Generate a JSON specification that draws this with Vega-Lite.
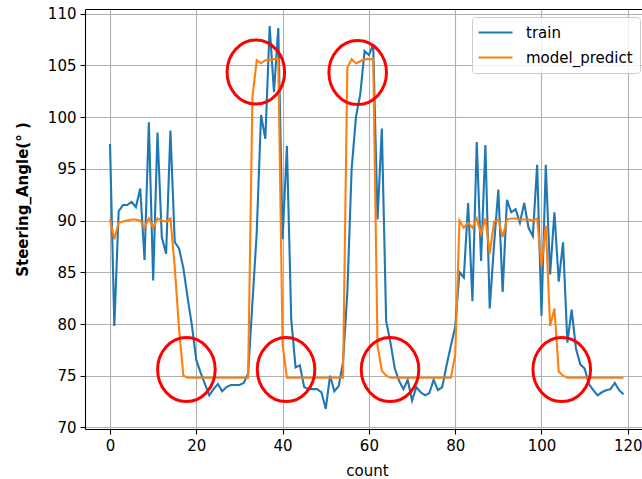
{
  "$schema": "https://vega.github.io/schema/vega-lite/v6.json",
  "autosize": {"type": "none"},
  "width": 557,
  "height": 420,
  "padding": {"left": 85, "top": 9, "right": 0, "bottom": 50},
  "background": "white",
  "config": {
    "view": {"stroke": null},
    "font": "DejaVu Sans",
    "axis": {
      "labelFont": "DejaVu Sans", "labelFontSize": 15, "labelColor": "black",
      "titleFont": "DejaVu Sans", "titleFontSize": 15, "titleColor": "black", "titleFontWeight": "normal",
      "domainColor": "black", "domainWidth": 1.1, "tickColor": "black", "tickWidth": 1.1, "tickSize": 5,
      "labelPadding": 4, "gridColor": "#b0b0b0", "gridWidth": 1.1, "gridOpacity": 1
    }
  },
  "datasets": {
    "series": [
      {"count":0,"train":97.4,"model_predict":90.1},
      {"count":1,"train":79.8,"model_predict":88.2},
      {"count":2,"train":90.9,"model_predict":89.8},
      {"count":3,"train":91.5,"model_predict":89.9},
      {"count":4,"train":91.5,"model_predict":90.0},
      {"count":5,"train":91.8,"model_predict":90.1},
      {"count":6,"train":91.3,"model_predict":90.1},
      {"count":7,"train":93.1,"model_predict":90.0},
      {"count":8,"train":86.2,"model_predict":89.3},
      {"count":9,"train":99.5,"model_predict":90.2},
      {"count":10,"train":84.2,"model_predict":89.3},
      {"count":11,"train":98.5,"model_predict":90.2},
      {"count":12,"train":88.4,"model_predict":90.0},
      {"count":13,"train":86.8,"model_predict":89.9},
      {"count":14,"train":98.7,"model_predict":90.2},
      {"count":15,"train":87.9,"model_predict":85.5},
      {"count":16,"train":87.3,"model_predict":79.5},
      {"count":17,"train":85.4,"model_predict":75.0},
      {"count":18,"train":82.5,"model_predict":74.8},
      {"count":19,"train":79.8,"model_predict":74.8},
      {"count":20,"train":76.5,"model_predict":74.8},
      {"count":21,"train":75.3,"model_predict":74.8},
      {"count":22,"train":74.2,"model_predict":74.8},
      {"count":23,"train":73.1,"model_predict":74.8},
      {"count":24,"train":73.7,"model_predict":74.8},
      {"count":25,"train":74.2,"model_predict":74.8},
      {"count":26,"train":73.5,"model_predict":74.8},
      {"count":27,"train":73.9,"model_predict":74.8},
      {"count":28,"train":74.1,"model_predict":74.8},
      {"count":29,"train":74.1,"model_predict":74.8},
      {"count":30,"train":74.1,"model_predict":74.8},
      {"count":31,"train":74.3,"model_predict":74.8},
      {"count":32,"train":75.2,"model_predict":74.8},
      {"count":33,"train":82.0,"model_predict":101.9},
      {"count":34,"train":88.8,"model_predict":105.5},
      {"count":35,"train":100.2,"model_predict":105.2},
      {"count":36,"train":97.9,"model_predict":105.5},
      {"count":37,"train":108.8,"model_predict":105.5},
      {"count":38,"train":102.4,"model_predict":105.6},
      {"count":39,"train":108.6,"model_predict":105.6},
      {"count":40,"train":88.2,"model_predict":78.0},
      {"count":41,"train":97.2,"model_predict":74.8},
      {"count":42,"train":80.5,"model_predict":74.8},
      {"count":43,"train":75.8,"model_predict":74.8},
      {"count":44,"train":76.0,"model_predict":74.8},
      {"count":45,"train":73.9,"model_predict":74.8},
      {"count":46,"train":73.7,"model_predict":74.8},
      {"count":47,"train":73.7,"model_predict":74.8},
      {"count":48,"train":73.7,"model_predict":74.8},
      {"count":49,"train":73.4,"model_predict":74.8},
      {"count":50,"train":71.8,"model_predict":74.8},
      {"count":51,"train":75.0,"model_predict":74.8},
      {"count":52,"train":73.5,"model_predict":74.8},
      {"count":53,"train":74.0,"model_predict":74.8},
      {"count":54,"train":76.3,"model_predict":74.8},
      {"count":55,"train":83.0,"model_predict":104.8},
      {"count":56,"train":95.0,"model_predict":105.6},
      {"count":57,"train":100.0,"model_predict":105.2},
      {"count":58,"train":102.2,"model_predict":105.4},
      {"count":59,"train":106.4,"model_predict":105.6},
      {"count":60,"train":106.0,"model_predict":105.6},
      {"count":61,"train":107.0,"model_predict":105.6},
      {"count":62,"train":90.1,"model_predict":77.9},
      {"count":63,"train":98.9,"model_predict":75.5},
      {"count":64,"train":80.3,"model_predict":75.0},
      {"count":65,"train":78.2,"model_predict":74.8},
      {"count":66,"train":75.7,"model_predict":74.8},
      {"count":67,"train":74.5,"model_predict":74.8},
      {"count":68,"train":73.7,"model_predict":74.8},
      {"count":69,"train":74.6,"model_predict":74.8},
      {"count":70,"train":72.6,"model_predict":74.8},
      {"count":71,"train":73.9,"model_predict":74.8},
      {"count":72,"train":73.4,"model_predict":74.8},
      {"count":73,"train":73.1,"model_predict":74.8},
      {"count":74,"train":73.3,"model_predict":74.8},
      {"count":75,"train":74.6,"model_predict":74.8},
      {"count":76,"train":73.6,"model_predict":74.8},
      {"count":77,"train":73.9,"model_predict":74.8},
      {"count":78,"train":76.0,"model_predict":74.8},
      {"count":79,"train":77.9,"model_predict":74.8},
      {"count":80,"train":79.7,"model_predict":77.0},
      {"count":81,"train":85.0,"model_predict":90.0},
      {"count":82,"train":84.5,"model_predict":89.3},
      {"count":83,"train":91.7,"model_predict":89.8},
      {"count":84,"train":82.2,"model_predict":89.3},
      {"count":85,"train":97.6,"model_predict":90.2},
      {"count":86,"train":86.1,"model_predict":88.7},
      {"count":87,"train":97.3,"model_predict":90.2},
      {"count":88,"train":81.5,"model_predict":86.8},
      {"count":89,"train":87.6,"model_predict":89.9},
      {"count":90,"train":93.0,"model_predict":90.1},
      {"count":91,"train":83.1,"model_predict":88.4},
      {"count":92,"train":92.0,"model_predict":90.1},
      {"count":93,"train":90.8,"model_predict":90.2},
      {"count":94,"train":91.1,"model_predict":90.2},
      {"count":95,"train":89.8,"model_predict":90.1},
      {"count":96,"train":91.7,"model_predict":90.1},
      {"count":97,"train":89.3,"model_predict":90.1},
      {"count":98,"train":88.5,"model_predict":90.0},
      {"count":99,"train":95.4,"model_predict":90.2},
      {"count":100,"train":80.8,"model_predict":85.6},
      {"count":101,"train":95.4,"model_predict":89.5},
      {"count":102,"train":84.8,"model_predict":79.8},
      {"count":103,"train":90.8,"model_predict":81.5},
      {"count":104,"train":84.1,"model_predict":75.4},
      {"count":105,"train":87.9,"model_predict":75.0},
      {"count":106,"train":78.2,"model_predict":74.8},
      {"count":107,"train":81.4,"model_predict":74.8},
      {"count":108,"train":77.6,"model_predict":74.8},
      {"count":109,"train":76.1,"model_predict":74.8},
      {"count":110,"train":75.7,"model_predict":74.8},
      {"count":111,"train":74.2,"model_predict":74.8},
      {"count":112,"train":73.6,"model_predict":74.8},
      {"count":113,"train":73.1,"model_predict":74.8},
      {"count":114,"train":73.4,"model_predict":74.8},
      {"count":115,"train":73.6,"model_predict":74.8},
      {"count":116,"train":73.7,"model_predict":74.8},
      {"count":117,"train":74.3,"model_predict":74.8},
      {"count":118,"train":73.6,"model_predict":74.8},
      {"count":119,"train":73.2,"model_predict":74.8}
    ],
    "marks": [
      {"cx": 33.8, "cy": 104.35},
      {"cx": 57.4, "cy": 104.3},
      {"cx": 17.7, "cy": 75.6},
      {"cx": 40.8, "cy": 75.6},
      {"cx": 64.9, "cy": 75.6},
      {"cx": 104.7, "cy": 75.6}
    ]
  },
  "resolve": {"axis": {"x": "independent"}},
  "layer": [
    {
      "data": {"name": "series"},
      "mark": {"type": "line", "strokeWidth": 2.1, "clip": true},
      "encoding": {
        "x": {"field": "count", "type": "quantitative",
              "scale": {"domain": [-5.8, 123.3], "nice": false, "zero": false},
              "axis": {"values": [0, 20, 40, 60, 80, 100, 120], "title": "count", "grid": true, "orient": "bottom",
                       "titleX": 282, "titleY": 41, "titleBaseline": "middle", "titleAnchor": null}},
        "y": {"field": "train", "type": "quantitative",
              "scale": {"domain": [69.85, 110.45], "nice": false, "zero": false},
              "axis": {"values": [70, 75, 80, 85, 90, 95, 100, 105, 110], "title": "Steering_Angle(°  )",
                       "titleFontWeight": "bold",
                       "titleX": -63, "titleY": 190, "titleAngle": -90, "titleAlign": "center", "titleBaseline": "middle", "grid": true}},
        "color": {"datum": "train", "type": "nominal",
                  "scale": {"domain": ["train", "model_predict"], "range": ["#1f77b4", "#ff7f0e"]},
                  "legend": {"title": null, "orient": "none", "legendX": 387, "legendY": 8,
                             "fillColor": "rgba(255,255,255,0.8)", "strokeColor": "#cccccc", "cornerRadius": 3,
                             "padding": 7, "rowPadding": 8, "symbolType": "M-2.43,0H2.43", "symbolSize": 196,
                             "symbolStrokeWidth": 2.1, "symbolOffset": 8, "labelOffset": 22,
                             "labelFont": "DejaVu Sans", "labelFontSize": 15, "labelColor": "black"}}
      }
    },
    {
      "data": {"name": "series"},
      "mark": {"type": "line", "strokeWidth": 2.1, "clip": true},
      "encoding": {
        "x": {"field": "count", "type": "quantitative", "axis": null},
        "y": {"field": "model_predict", "type": "quantitative"},
        "color": {"datum": "model_predict", "type": "nominal"}
      }
    },
    {
      "data": {"name": "marks"},
      "mark": {"type": "point", "shape": "M-0.9,0A0.9,1,0,1,0,0.9,0A0.9,1,0,1,0,-0.9,0Z", "size": 4096,
               "filled": false, "stroke": "#ff0000", "strokeWidth": 3, "opacity": 1},
      "encoding": {
        "x": {"field": "cx", "type": "quantitative",
              "axis": {"orient": "top", "labels": false, "ticks": false, "grid": false, "title": null, "domain": true}},
        "y": {"field": "cy", "type": "quantitative"}
      }
    }
  ]
}
